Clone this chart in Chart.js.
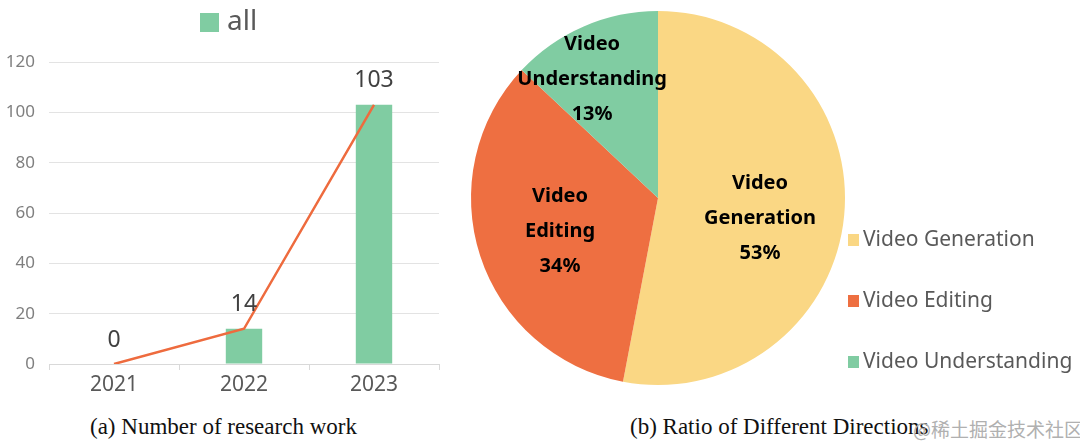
<!DOCTYPE html>
<html>
<head>
<meta charset="utf-8">
<script src="https://cdn.jsdelivr.net/npm/chart.js@4/dist/chart.umd.min.js"></script>
<style>
  body { margin: 0; width: 1080px; height: 447px; background: #fff; position: relative; overflow: hidden; }
  .box { position: absolute; }
  .cap { position: absolute; top: 414px; font-family: "Liberation Serif", serif; font-size: 23px; color: #111; white-space: nowrap; }
  .mark { position: absolute; top: 415px; left: 913px; font-family: "Noto Sans CJK SC", sans-serif; font-size: 19px; color: #b0b0b0; white-space: nowrap; }
</style>
</head>
<body>
<div class="box" style="left:0;top:0;width:440px;height:400px"><canvas id="barChart"></canvas></div>
<div class="box" style="left:440px;top:0;width:640px;height:400px"><canvas id="pieChart"></canvas></div>
<div class="cap" style="left:90px">(a) Number of research work</div>
<div class="cap" style="left:630px">(b) Ratio of Different Directions</div>
<div class="mark">@稀土掘金技术社区</div>
<script>
// data for the left chart
const years = ["2021", "2022", "2023"];
const workCounts = [0, 14, 103];
const yTicks = [0, 20, 40, 60, 80, 100, 120];

// data for the right chart
const directions = ["Video Generation", "Video Editing", "Video Understanding"];
const directionShares = [53, 34, 13];
const directionColors = ["#fad784", "#ee6f41", "#80cca2"];

const sans = '"Noto Sans", sans-serif';

//Plugin: value labels above bars and the "all" legend at the top
const barExtras = {
  id: "barExtras",
  afterDatasetsDraw(chart) {
    const ctx = chart.ctx;
    const meta = chart.getDatasetMeta(0);
    ctx.save();
    ctx.fillStyle = "#404040";
    ctx.font = "23px " + sans;
    ctx.textAlign = "center";
    ctx.textBaseline = "middle";
    meta.data.forEach((bar, i) => {
      ctx.fillText(String(workCounts[i]), bar.x, bar.y - 24);
    });
    // legend
    ctx.fillStyle = "#80cca2";
    ctx.fillRect(200, 13, 19, 19);
    ctx.fillStyle = "#595959";
    ctx.font = "28px " + sans;
    ctx.textAlign = "left";
    ctx.fillText("all", 227, 22);
    ctx.restore();
  }
};

new Chart(document.getElementById("barChart"), {
  data: {
    labels: years,
    datasets: [
      {
        type: "bar",
        label: "all",
        data: workCounts,
        backgroundColor: "#80cca2",
        barPercentage: 0.28,
        categoryPercentage: 1,
        order: 1,
      },
      {
        type: "line",
        label: "trend",
        data: workCounts,
        borderColor: "#ee6b3e",
        borderWidth: 2.5,
        pointRadius: 0,
        tension: 0,
        order: 0,
      },
    ],
  },
  options: {
    responsive: true,
    maintainAspectRatio: false,
    animation: false,
    layout: { padding: { top: 62, right: 1, left: 0, bottom: 0 } },
    plugins: { legend: { display: false }, tooltip: { enabled: false } },
    scales: {
      x: {
        offset: true,
        grid: { offset: true, drawOnChartArea: false, tickLength: 6, color: "#d9d9d9" },
        border: { color: "#d9d9d9" },
        ticks: { color: "#595959", font: { size: 21, family: sans }, padding: 2 },
        afterFit: (s) => { s.height = 36; },
      },
      y: {
        min: 0,
        max: 120,
        afterBuildTicks: (s) => { s.ticks = yTicks.map((v) => ({ value: v })); },
        grid: { color: "#e3e3e3", drawTicks: false },
        border: { display: false },
        ticks: { color: "#7f7f7f", font: { size: 17, family: sans }, padding: 14 },
        afterFit: (s) => { s.width = 49; },
      },
    },
  },
  plugins: [barExtras],
});

// per-slice label placement: fraction of radius and angle shift in degrees
const pieLabelPlace = [[0.556, 5.7], [0.553, -0.6], [0.727, -5.6]];

//Plugin: bold labels in the slices and the legend on the right
const pieExtras = {
  id: "pieExtras",
  afterDatasetsDraw(chart) {
    const ctx = chart.ctx;
    const meta = chart.getDatasetMeta(0);
    const total = directionShares.reduce((a, b) => a + b, 0);
    ctx.save();
    ctx.textAlign = "center";
    ctx.textBaseline = "middle";
    ctx.fillStyle = "#000";
    ctx.font = "bold 20px " + sans;
    meta.data.forEach((arc, i) => {
      const p = arc.getProps(["x", "y", "startAngle", "endAngle", "outerRadius"], true);
      const ang = (p.startAngle + p.endAngle) / 2 + (pieLabelPlace[i][1] * Math.PI) / 180;
      const r = p.outerRadius * pieLabelPlace[i][0];
      const cx = p.x + Math.cos(ang) * r;
      const cy = p.y + Math.sin(ang) * r;
      const parts = directions[i].split(" ");
      const lines = [parts[0], parts.slice(1).join(" "), Math.round((directionShares[i] / total) * 100) + "%"];
      lines.forEach((t, k) => ctx.fillText(t, cx, cy + (k - 1) * 35));
    });
    // legend
    ctx.textAlign = "left";
    ctx.font = "21px " + sans;
    directions.forEach((name, i) => {
      const y = 240 + i * 61;
      ctx.fillStyle = directionColors[i];
      ctx.fillRect(408, y - 6, 11, 12);
      ctx.fillStyle = "#595959";
      ctx.fillText(name, 423, y);
    });
    ctx.restore();
  }
};

new Chart(document.getElementById("pieChart"), {
  type: "pie",
  data: {
    labels: directions,
    datasets: [{ data: directionShares, backgroundColor: directionColors, borderWidth: 0 }],
  },
  options: {
    responsive: true,
    maintainAspectRatio: false,
    animation: false,
    layout: { padding: { left: 31, right: 235, top: 11, bottom: 15 } },
    plugins: { legend: { display: false }, tooltip: { enabled: false } },
  },
  plugins: [pieExtras],
});
</script>
</body>
</html>
